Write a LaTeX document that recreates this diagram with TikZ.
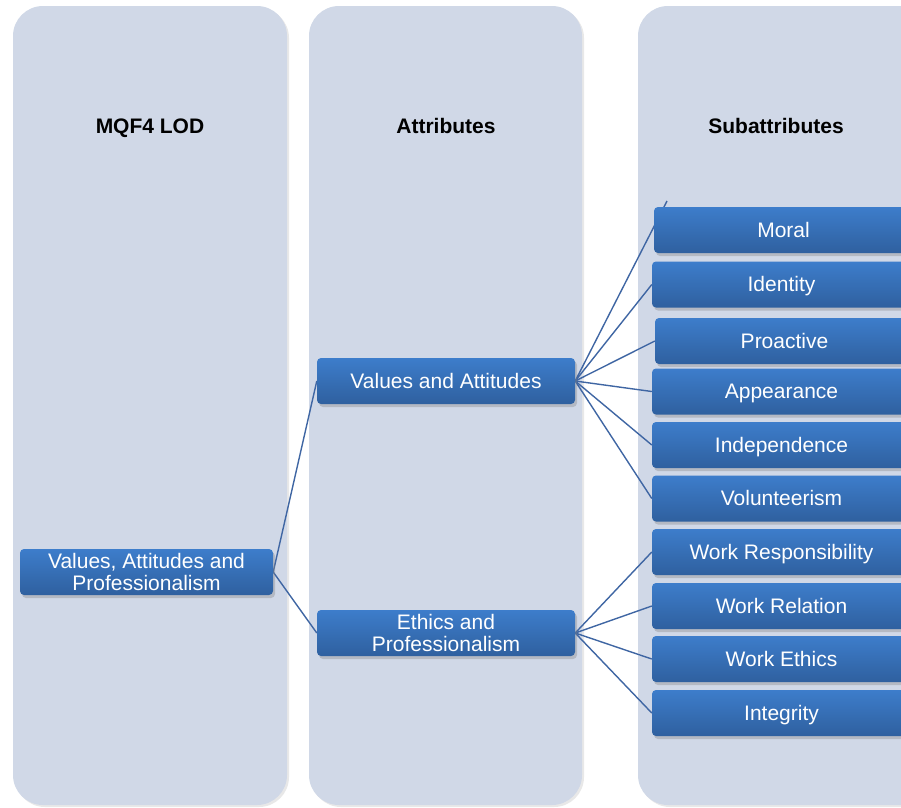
\documentclass[tikz,border=0pt]{standalone}
\usepackage{fontspec}
\setmainfont{Liberation Sans}
\usetikzlibrary{shadows}
\pgfdeclarelayer{cols}
\pgfdeclarelayer{links}
\pgfsetlayers{cols,links,main}
\definecolor{colfill}{HTML}{D0D8E7}
\definecolor{boxtop}{HTML}{3D7DCB}
\definecolor{boxbot}{HTML}{2F609F}
\definecolor{linkcol}{HTML}{3F66A3}
\tikzset{
  column/.style={fill=colfill, rounded corners=30pt, draw=none,
    drop shadow={opacity=0.18, shadow xshift=2pt, shadow yshift=-2pt}},
  header/.style={font=\fontsize{21}{24}\selectfont\bfseries, text=black,
    text height=16pt, text depth=3.5pt, inner sep=0pt},
  itembox/.style={rectangle, rounded corners=4pt, top color=boxtop, bottom color=boxbot,
    draw=none, text=white, align=center, inner sep=0pt,
    font=\fontsize{21}{22}\selectfont, minimum height=46pt,
    drop shadow={opacity=0.35, shadow xshift=2pt, shadow yshift=-3pt}},
  oneline/.style={text height=17pt, text depth=2.5pt},
  lodbox/.style={itembox, minimum width=253pt},
  attrbox/.style={itembox, minimum width=258pt},
  subbox/.style={itembox, oneline, minimum width=259pt},
  link/.style={draw=linkcol, line width=1.4pt}
}
\begin{document}
\begin{tikzpicture}[x=1pt,y=-1pt]
\useasboundingbox (0,0) rectangle (901,807);
\clip (0,0) rectangle (901,807);
\begin{pgfonlayer}{cols}
\path[column] (13,6) rectangle (287,805);
\path[column] (309,6) rectangle (582,805);
\path[column] (638,6) rectangle (935,805);
\end{pgfonlayer}
\node[header] (h1) at (150,127) {MQF4 LOD};
\node[header] (h2) at (446,127) {Attributes};
\node[header] (h3) at (776,127) {Subattributes};

\node[lodbox] (lod) at (146.5,572) {Values, Attitudes and\\Professionalism};
\node[attrbox, oneline] (va) at (446,381) {Values and Attitudes};
\node[attrbox] (ep) at (446,633) {Ethics and\\Professionalism};

\node[subbox] (s1) at (783.5,230) {Moral};
\node[subbox] (s2) at (781.5,284.5) {Identity};
\node[subbox] (s3) at (784.5,341) {Proactive};
\node[subbox] (s4) at (781.5,391.5) {Appearance};
\node[subbox] (s5) at (781.5,445) {Independence};
\node[subbox] (s6) at (781.5,498.5) {Volunteerism};
\node[subbox] (s7) at (781.5,552) {Work Responsibility};
\node[subbox] (s8) at (781.5,606) {Work Relation};
\node[subbox] (s9) at (781.5,659) {Work Ethics};
\node[subbox] (s10) at (781.5,713) {Integrity};
\coordinate (mtop) at (667,201);

\begin{pgfonlayer}{links}
\draw[link] (lod.east) -- (va.west);
\draw[link] (lod.east) -- (ep.west);
\draw[link] (va.east) -- (mtop);
\foreach \s in {s2,s3,s4,s5,s6} \draw[link] (va.east) -- (\s.west);
\foreach \s in {s7,s8,s9,s10} \draw[link] (ep.east) -- (\s.west);
\end{pgfonlayer}
\end{tikzpicture}
\end{document}
